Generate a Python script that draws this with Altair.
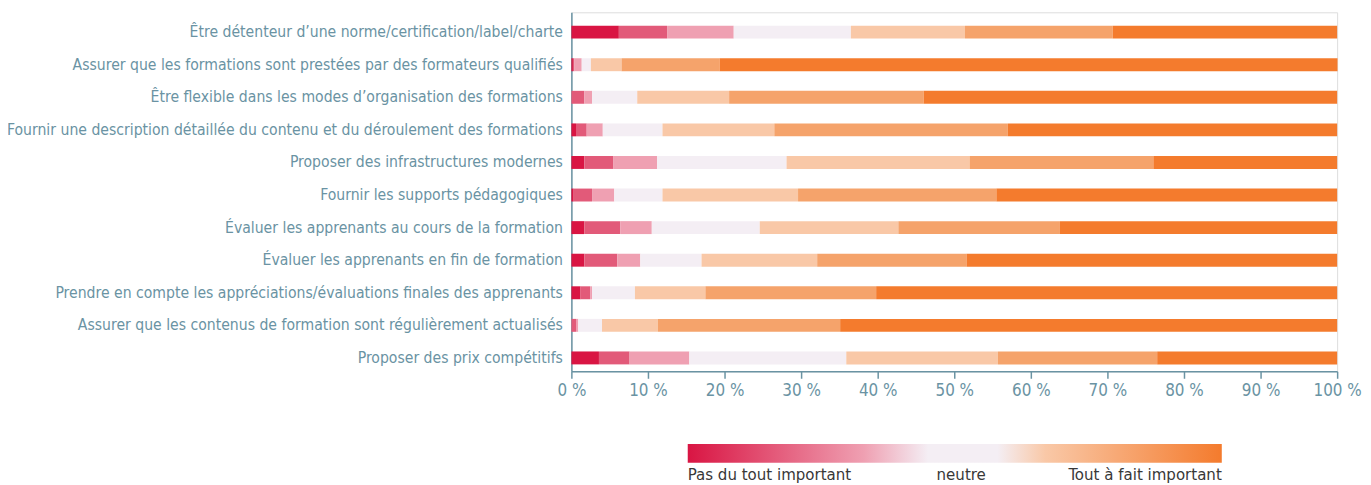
import altair as alt
import pandas as pd

items = [
    "Être détenteur d’une norme/certification/label/charte",
    "Assurer que les formations sont prestées par des formateurs qualifiés",
    "Être flexible dans les modes d’organisation des formations",
    "Fournir une description détaillée du contenu et du déroulement des formations",
    "Proposer des infrastructures modernes",
    "Fournir les supports pédagogiques",
    "Évaluer les apprenants au cours de la formation",
    "Évaluer les apprenants en fin de formation",
    "Prendre en compte les appréciations/évaluations finales des apprenants",
    "Assurer que les contenus de formation sont régulièrement actualisés",
    "Proposer des prix compétitifs",
]

levels = ["1", "2", "3", "4", "5", "6", "7"]
level_colors = ["#d91543", "#e25a79", "#efa0b2", "#f4eef4", "#f9c8a7", "#f5a36b", "#f47b2d"]

level1 = [6.2, 0.2, 0.0, 0.6, 1.7, 0.3, 1.7, 1.7, 1.2, 0.0, 3.6]
level2 = [6.3, 0.2, 1.7, 1.4, 3.8, 2.4, 4.7, 4.3, 1.25, 0.6, 4.0]
level3 = [8.7, 0.95, 1.0, 2.1, 5.7, 2.9, 4.1, 3.0, 0.25, 0.3, 7.8]
level4 = [15.3, 1.2, 5.9, 7.8, 16.9, 6.3, 14.1, 8.0, 5.6, 3.1, 20.5]
level5 = [14.9, 4.0, 12.0, 14.6, 23.9, 17.7, 18.1, 15.1, 9.2, 7.3, 19.8]
level6 = [19.3, 12.8, 25.4, 30.5, 24.0, 25.9, 21.1, 19.5, 22.3, 23.8, 20.8]
level7 = [29.3, 80.7, 54.0, 43.0, 24.0, 44.5, 36.2, 48.4, 60.2, 64.9, 23.5]

series = [level1, level2, level3, level4, level5, level6, level7]

rows = []
for li, (lev, vals) in enumerate(zip(levels, series)):
    for it, v in zip(items, vals):
        rows.append({"item": it, "level": lev, "order": li, "value": v / 100.0})
df = pd.DataFrame(rows)

legend_labels = ["Pas du tout important", "neutre", "Tout à fait important"]

FONT = "'DejaVu Sans Condensed', Roboto, sans-serif"
AXIS_COLOR = "#6a93a3"

bars = alt.Chart(df).mark_bar(size=13).encode(
    y=alt.Y(
        "item:N",
        sort=items,
        title=None,
        scale=alt.Scale(paddingInner=0.6, paddingOuter=0.31, align=0.66),
        axis=alt.Axis(
            ticks=False,
            labelFont=FONT,
            labelFontSize=15.7,
            labelFontWeight=300,
            labelColor=AXIS_COLOR,
            labelPadding=9,
            labelLimit=600,
            domainColor=AXIS_COLOR,
            domainWidth=1.5,
            grid=False,
        ),
    ),
    x=alt.X(
        "sum(value):Q",
        stack="zero",
        title=None,
        scale=alt.Scale(domain=[0, 1], nice=False),
        axis=alt.Axis(
            values=[i / 10 for i in range(11)],
            labelExpr="format(datum.value*100, 'd') + ' %'",
            labelFont=FONT,
            labelFontSize=17,
            labelFontWeight=300,
            labelColor=AXIS_COLOR,
            labelPadding=4,
            tickColor=AXIS_COLOR,
            tickSize=7,
            tickWidth=1.5,
            domainColor=AXIS_COLOR,
            domainWidth=1.5,
            grid=False,
            labelFlush=False,
        ),
    ),
    color=alt.Color(
        "level:N",
        scale=alt.Scale(domain=levels, range=level_colors),
        legend=None,
    ),
    order=alt.Order("order:Q", sort="ascending"),
)

grad = alt.LinearGradient(
    gradient="linear",
    x1=0, x2=1, y1=0, y2=0,
    stops=[
        alt.GradientStop(color="#d91543", offset=0.0),
        alt.GradientStop(color="#efa0b2", offset=0.33),
        alt.GradientStop(color="#f4eef4", offset=0.45),
        alt.GradientStop(color="#f4eef4", offset=0.58),
        alt.GradientStop(color="#f9c8a7", offset=0.67),
        alt.GradientStop(color="#f47b2d", offset=1.0),
    ],
)

legend_df = pd.DataFrame({"k": [0]})
legend_bar = alt.Chart(legend_df).mark_rect(fill=grad).encode(
    x=alt.value(117), x2=alt.value(654), y=alt.value(434), y2=alt.value(453)
)

legend_left = alt.Chart(pd.DataFrame({"label": [legend_labels[0]]})).mark_text(
    align="left", baseline="alphabetic", font=FONT, fontSize=16.8, fontWeight=300, color="#383838"
).encode(text="label:N", x=alt.value(117), y=alt.value(470))
legend_mid = alt.Chart(pd.DataFrame({"label": [legend_labels[1]]})).mark_text(
    align="center", baseline="alphabetic", font=FONT, fontSize=16.8, fontWeight=300, color="#383838"
).encode(text="label:N", x=alt.value(392), y=alt.value(470))
legend_right = alt.Chart(pd.DataFrame({"label": [legend_labels[2]]})).mark_text(
    align="right", baseline="alphabetic", font=FONT, fontSize=16.8, fontWeight=300, color="#383838"
).encode(text="label:N", x=alt.value(654), y=alt.value(470))

chart = alt.layer(bars, legend_bar, legend_left, legend_mid, legend_right).properties(
    width=770,
    height=361,
    autosize=alt.AutoSizeParams(type="none"),
    padding={"left": 566.5, "top": 3, "right": 26, "bottom": 113},
).configure_view(stroke=None).configure(background="white")

chart.save("out.html", embed_options={"renderer": "svg", "actions": False})
